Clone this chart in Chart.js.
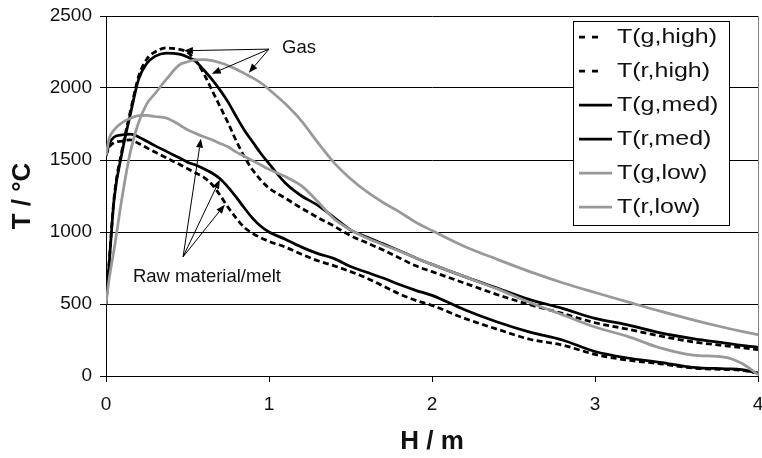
<!DOCTYPE html>
<html><head><meta charset="utf-8">
<script src="https://cdn.jsdelivr.net/npm/chart.js@4"></script>
<style>html,body{margin:0;padding:0;background:#fff}#wrap{width:762px;height:458px}</style>
</head><body><div id="wrap"><canvas id="c" width="762" height="458"></canvas></div>
<script>
// Height above bottom (m)
const H = [0, 0.02, 0.05, 0.1, 0.15, 0.2, 0.25, 0.3, 0.37, 0.45, 0.5, 0.55, 0.6, 0.65, 0.7, 0.75, 0.8, 0.85, 0.9, 0.95, 1.0, 1.1, 1.2, 1.3, 1.4, 1.5, 1.6, 1.7, 1.8, 1.9, 2.0, 2.2, 2.4, 2.6, 2.8, 3.0, 3.2, 3.4, 3.6, 3.8, 3.9, 4.0];
// Temperatures (°C)
const T_g_high = [500, 800, 1240, 1580, 1840, 2080, 2200, 2250, 2278, 2268, 2248, 2190, 2100, 1985, 1870, 1755, 1630, 1520, 1430, 1360, 1305, 1235, 1165, 1100, 1040, 975, 925, 875, 820, 765, 725, 645, 565, 495, 435, 370, 325, 278, 237, 210, 197, 183];
const T_r_high = [1530, 1590, 1620, 1632, 1640, 1615, 1585, 1555, 1515, 1470, 1440, 1410, 1380, 1330, 1255, 1170, 1095, 1030, 990, 960, 935, 895, 845, 800, 765, 725, 680, 625, 570, 525, 490, 400, 325, 255, 215, 150, 110, 85, 55, 45, 40, 20];
const T_g_med = [500, 790, 1230, 1560, 1820, 2060, 2170, 2220, 2243, 2235, 2215, 2185, 2125, 2060, 1985, 1900, 1800, 1705, 1625, 1545, 1475, 1340, 1250, 1185, 1100, 1015, 965, 918, 870, 820, 775, 690, 610, 530, 470, 400, 355, 300, 260, 228, 212, 199];
const T_r_med = [1530, 1610, 1660, 1675, 1680, 1660, 1630, 1600, 1560, 1515, 1485, 1465, 1440, 1410, 1370, 1310, 1240, 1165, 1095, 1040, 1000, 950, 895, 850, 815, 760, 720, 680, 635, 595, 560, 460, 375, 305, 250, 170, 125, 95, 60, 50, 45, 20];
const T_g_low = [500, 680, 880, 1250, 1560, 1760, 1890, 1960, 2060, 2160, 2182, 2195, 2197, 2190, 2175, 2155, 2130, 2100, 2070, 2035, 1990, 1890, 1770, 1620, 1480, 1370, 1280, 1205, 1140, 1068, 1010, 900, 810, 725, 648, 580, 515, 450, 390, 335, 310, 287];
const T_r_low = [1530, 1650, 1710, 1760, 1790, 1808, 1810, 1802, 1792, 1745, 1710, 1685, 1662, 1640, 1615, 1590, 1555, 1525, 1495, 1465, 1435, 1385, 1320, 1210, 1090, 1015, 958, 912, 868, 820, 775, 690, 605, 510, 425, 340, 275, 195, 145, 130, 88, 10];
const seriesNames = ['T(g,high)', 'T(r,high)', 'T(g,med)', 'T(r,med)', 'T(g,low)', 'T(r,low)'];
const xTickValues = [0, 1, 2, 3, 4];
const yTickValues = [0, 500, 1000, 1500, 2000, 2500];
const xTitle = 'H / m';
const yTitle = 'T / °C';

const FONT = "'Liberation Sans', Arial, sans-serif";
const BLACK = '#000000', GRAY = '#999999';
const styles = [
  {color: BLACK, dash: [6, 3.5]}, {color: BLACK, dash: [6, 3.5]},
  {color: BLACK, dash: []}, {color: BLACK, dash: []},
  {color: GRAY, dash: []}, {color: GRAY, dash: []}
];
const seriesValues = [T_g_high, T_r_high, T_g_med, T_r_med, T_g_low, T_r_low];

const datasets = seriesValues.map((vals, i) => ({
  label: seriesNames[i],
  data: H.map((h, j) => ({x: h, y: vals[j]})),
  borderColor: styles[i].color,
  borderDash: styles[i].dash,
  borderWidth: 2.75,
  pointRadius: 0,
  fill: false,
  cubicInterpolationMode: 'monotone',
  order: 5 - i
}));

// Annotation anchors in data coordinates
const gasLabel = {text: 'Gas', x: 1.08, y: 2280};
const gasFrom = {x: 1.0, y: 2270};
const gasTo = [{x: 0.478, y: 2259}, {x: 0.649, y: 2099}, {x: 0.876, y: 2106}];
const rawLabel = {text: 'Raw material/melt', x: 0.165, y: 690};
const rawFrom = {x: 0.473, y: 828};
const rawTo = [{x: 0.582, y: 1648}, {x: 0.698, y: 1363}, {x: 0.729, y: 1190}];

function arrow(ctx, x1, y1, x2, y2) {
  const a = Math.atan2(y2 - y1, x2 - x1);
  const len = 9, w = 3.5;
  const bx = x2 - len * Math.cos(a), by = y2 - len * Math.sin(a);
  ctx.beginPath(); ctx.moveTo(x1, y1); ctx.lineTo(bx, by); ctx.stroke();
  ctx.beginPath();
  ctx.moveTo(x2, y2);
  ctx.lineTo(bx + w * Math.sin(a), by - w * Math.cos(a));
  ctx.lineTo(bx - w * Math.sin(a), by + w * Math.cos(a));
  ctx.closePath(); ctx.fill();
}

const decor = {
  id: 'decor',
  afterDatasetsDraw(chart) {
    const {ctx, scales: {x, y}} = chart;
    ctx.save();
    ctx.strokeStyle = '#000'; ctx.fillStyle = '#000'; ctx.lineWidth = 1;
    const gx = x.getPixelForValue(gasFrom.x), gy = y.getPixelForValue(gasFrom.y);
    gasTo.forEach(p => arrow(ctx, gx, gy, x.getPixelForValue(p.x), y.getPixelForValue(p.y)));
    const rx = x.getPixelForValue(rawFrom.x), ry = y.getPixelForValue(rawFrom.y);
    rawTo.forEach(p => arrow(ctx, rx, ry, x.getPixelForValue(p.x), y.getPixelForValue(p.y)));
    ctx.font = '18.5px ' + FONT;
    ctx.textAlign = 'left'; ctx.textBaseline = 'middle';
    ctx.fillStyle = '#111';
    ctx.fillText(gasLabel.text, x.getPixelForValue(gasLabel.x), y.getPixelForValue(gasLabel.y));
    ctx.fillText(rawLabel.text, x.getPixelForValue(rawLabel.x), y.getPixelForValue(rawLabel.y));
    ctx.restore();
  },
  afterDraw(chart) {
    const {ctx, chartArea: ca} = chart;
    ctx.save();
    // right frame
    ctx.strokeStyle = '#808080'; ctx.lineWidth = 1;
    ctx.beginPath(); ctx.moveTo(ca.right + 0.5, ca.top); ctx.lineTo(ca.right + 0.5, ca.bottom); ctx.stroke();
    // legend
    const lx = ca.right - 185, ly = ca.top + 5, lw = 156, lh = 204;
    ctx.fillStyle = '#fff'; ctx.fillRect(lx, ly, lw, lh);
    ctx.strokeStyle = '#000'; ctx.strokeRect(lx + 0.5, ly + 0.5, lw, lh);
    seriesNames.forEach((name, i) => {
      const yy = ly + 16 + 34 * i;
      ctx.save();
      ctx.strokeStyle = styles[i].color; ctx.lineWidth = 2.75;
      ctx.beginPath();
      if (styles[i].dash.length) {
        ctx.setLineDash([6, 7]);
        ctx.moveTo(lx + 6, yy); ctx.lineTo(lx + 26, yy);
      } else {
        ctx.moveTo(lx + 6, yy); ctx.lineTo(lx + 39, yy);
      }
      ctx.stroke();
      ctx.restore();
      ctx.save();
      ctx.translate(lx + 44, yy);
      ctx.scale(1.25, 1);
      ctx.fillStyle = '#111';
      ctx.font = '20px ' + FONT;
      ctx.textAlign = 'left'; ctx.textBaseline = 'middle';
      ctx.fillText(name, 0, 0);
      ctx.restore();
    });
    // axis titles
    ctx.fillStyle = '#111';
    ctx.font = 'bold 26px ' + FONT;
    ctx.textAlign = 'center'; ctx.textBaseline = 'middle';
    ctx.fillText(xTitle, (ca.left + ca.right) / 2, 442);
    ctx.save();
    ctx.translate(23, (ca.top + ca.bottom) / 2);
    ctx.rotate(-Math.PI / 2);
    ctx.fillText(yTitle, 0, 0);
    ctx.restore();
    ctx.restore();
  }
};

new Chart(document.getElementById('c'), {
  type: 'line',
  data: {datasets},
  options: {
    responsive: false,
    animation: false,
    devicePixelRatio: 1,
    layout: {padding: {left: 0, right: 4, top: 16, bottom: 0}},
    plugins: {legend: {display: false}, tooltip: {enabled: false}},
    scales: {
      x: {
        type: 'linear', min: 0, max: 4,
        afterBuildTicks: s => { s.ticks = xTickValues.map(v => ({value: v})); },
        afterFit: s => { s.height = 82; s.paddingLeft = 0; s.paddingRight = 0; },
        grid: {drawOnChartArea: false, drawTicks: true, tickLength: 6, color: '#000', lineWidth: 1},
        border: {color: '#000', width: 1},
        ticks: {color: '#111', font: {family: FONT, size: 19}, padding: 11, maxRotation: 0, autoSkip: false,
                callback: v => String(v)}
      },
      y: {
        type: 'linear', min: 0, max: 2500,
        afterBuildTicks: s => { s.ticks = yTickValues.map(v => ({value: v})); },
        afterFit: s => { s.width = 106; s.paddingTop = 0; s.paddingBottom = 0; },
        grid: {drawOnChartArea: true, drawTicks: true, tickLength: 6, color: '#000', lineWidth: 1},
        border: {color: '#000', width: 1},
        ticks: {color: '#111', font: {family: FONT, size: 19}, padding: 8, autoSkip: false,
                callback: v => String(v)}
      }
    }
  },
  plugins: [decor]
});
</script>
</body></html>
